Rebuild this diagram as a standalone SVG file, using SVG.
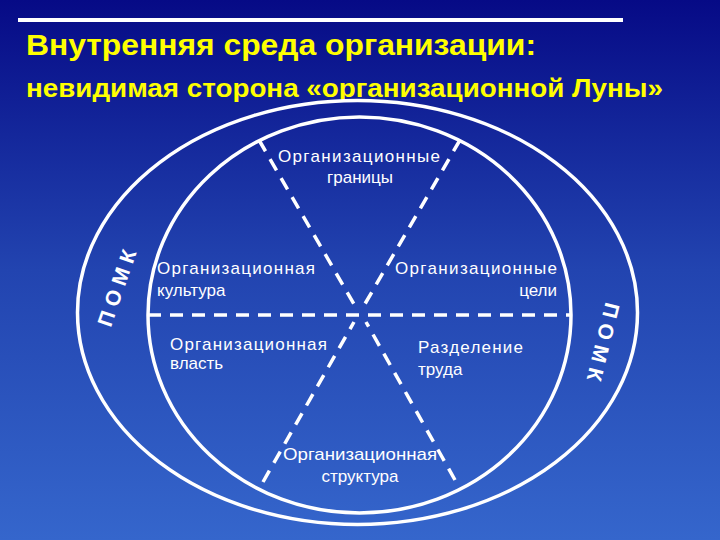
<svg xmlns="http://www.w3.org/2000/svg" width="720" height="540" viewBox="0 0 720 540">
<defs>
<linearGradient id="bg" x1="0" y1="0" x2="0" y2="1">
<stop offset="0" stop-color="#060a86"/>
<stop offset="0.5" stop-color="#2244b0"/>
<stop offset="1" stop-color="#3566cc"/>
</linearGradient>
</defs>
<style>
.title{font-family:"Liberation Sans",Arial,sans-serif;font-weight:bold;fill:#ffff00}
.lbl{font-family:"Liberation Sans",Arial,sans-serif;font-size:17px;fill:#ffffff}
.pomk{font-family:"Liberation Sans",Arial,sans-serif;font-size:21px;font-weight:bold;fill:#ffffff;letter-spacing:6px}
.ring{fill:none;stroke:#ffffff;stroke-width:3.5}
.dash{fill:none;stroke:#ffffff;stroke-width:3.5;stroke-dasharray:13 9}
</style>
<rect x="0" y="0" width="720" height="540" fill="url(#bg)"/>
<line x1="18" y1="20" x2="623" y2="20" stroke="#ffffff" stroke-width="4"/>
<text class="title" x="26" y="55" font-size="29" textLength="510" lengthAdjust="spacingAndGlyphs">Внутренняя среда организации:</text>
<text class="title" x="26" y="97" font-size="25" textLength="637" lengthAdjust="spacingAndGlyphs">невидимая сторона «организационной Луны»</text>
<g id="rings">
<ellipse class="ring" cx="357.5" cy="312.5" rx="280" ry="212"/>
<ellipse class="ring" cx="359.5" cy="315" rx="211.5" ry="198"/>
</g>
<g id="connectors">
<line class="dash" x1="148" y1="315" x2="571" y2="315"/>
<line class="dash" x1="259" y1="140" x2="358" y2="311"/>
<line class="dash" x1="460" y1="140" x2="362" y2="309"/>
<line class="dash" x1="263" y1="482" x2="354" y2="322"/>
<line class="dash" x1="455" y1="480" x2="366" y2="322"/>
</g>
<g id="n-boundaries">
<text class="lbl" x="359" y="162" text-anchor="middle" textLength="162" lengthAdjust="spacing">Организационные</text>
<text class="lbl" x="360" y="183" text-anchor="middle">границы</text>
</g>
<g id="n-culture">
<text class="lbl" x="157" y="274" textLength="158" lengthAdjust="spacing">Организационная</text>
<text class="lbl" x="157" y="296">культура</text>
</g>
<g id="n-goals">
<text class="lbl" x="395" y="274" textLength="162" lengthAdjust="spacing">Организационные</text>
<text class="lbl" x="557" y="296" text-anchor="end">цели</text>
</g>
<g id="n-power">
<text class="lbl" x="170" y="350" textLength="157" lengthAdjust="spacing">Организационная</text>
<text class="lbl" x="170" y="369">власть</text>
</g>
<g id="n-labour">
<text class="lbl" x="418" y="353" textLength="105" lengthAdjust="spacing">Разделение</text>
<text class="lbl" x="418" y="375">труда</text>
</g>
<g id="n-structure">
<text class="lbl" x="360" y="460" text-anchor="middle" textLength="154" lengthAdjust="spacingAndGlyphs">Организационная</text>
<text class="lbl" x="360" y="482" text-anchor="middle">структура</text>
</g>
<g id="n-pomk-left">
<text class="pomk" transform="translate(117,288) rotate(-71)" x="3" y="7" text-anchor="middle">ПОМК</text>
</g>
<g id="n-pomk-right">
<text class="pomk" transform="translate(603,342) rotate(104)" x="3" y="7" text-anchor="middle">ПОМК</text>
</g>
</svg>
